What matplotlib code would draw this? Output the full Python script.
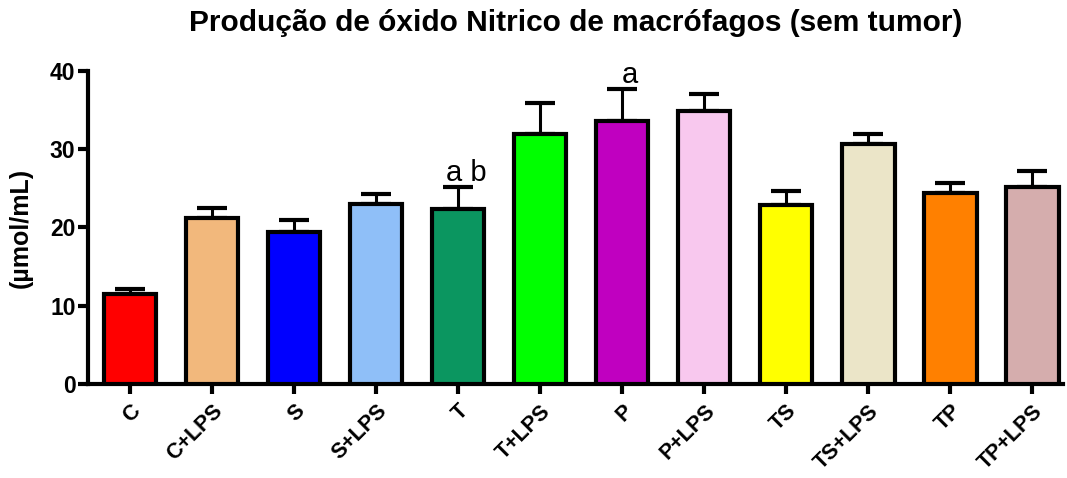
import numpy as np
import matplotlib
matplotlib.use('Agg')
import matplotlib.pyplot as plt

plt.rcParams['font.family'] = ['Liberation Sans', 'DejaVu Sans']

# groups, means and upper SEM
groups = ['C', 'C+LPS', 'S', 'S+LPS', 'T', 'T+LPS', 'P', 'P+LPS', 'TS', 'TS+LPS', 'TP', 'TP+LPS']
means = [11.5, 21.2, 19.4, 23.0, 22.4, 31.9, 33.6, 34.9, 22.9, 30.7, 24.4, 25.2]
sem = [0.6, 1.3, 1.6, 1.3, 2.8, 4.0, 4.1, 2.2, 1.8, 1.2, 1.3, 2.0]
colors = ['#FF0000', '#F2B87C', '#0000FF', '#8FBFF8', '#0B9660', '#00FF00',
          '#C000C0', '#F8C8EE', '#FFFF00', '#EBE5C8', '#FF8000', '#D5ADAD']
# significance letters above some bars
letters = {'T': 'a b', 'P': 'a'}

fig = plt.figure(figsize=(10.67, 4.78), dpi=100)
ax = fig.add_axes([0.0825, 0.1967, 0.9135, 0.6548])

x = np.arange(len(groups))
ax.bar(x, means, width=0.64, color=colors, edgecolor='black', linewidth=3, zorder=3)
ax.errorbar(x, means, yerr=[np.zeros(len(sem)), sem], fmt='none', ecolor='black',
            elinewidth=2.2, capsize=11, capthick=3, zorder=2)

for i, g in enumerate(groups):
    if g in letters:
        ax.text(x[i] + 0.1, means[i] + sem[i] + 0.0, letters[g], ha='center', va='bottom',
                fontsize=21)

ax.set_xlim(-0.51, 11.37)
ax.set_ylim(0, 40)
ax.set_yticks([0, 10, 20, 30, 40])
ax.set_xticks(x)
ax.set_xticklabels(groups, rotation=45, ha='right', rotation_mode='anchor',
                   fontsize=15.5, fontweight='bold')
for lab in ax.get_yticklabels():
    lab.set_fontsize(16.5)
    lab.set_fontweight('bold')
ax.tick_params(axis='both', direction='out', length=7, width=3, pad=2)
ax.tick_params(axis='x', pad=5)

for side in ['top', 'right']:
    ax.spines[side].set_visible(False)
for side in ['left', 'bottom']:
    ax.spines[side].set_linewidth(3)

ax.set_ylabel('(µmol/mL)', fontsize=18, fontweight='bold', labelpad=12)
ax.set_title('Produção de óxido Nitrico de macrófagos (sem tumor)', fontsize=21.5,
             fontweight='bold', pad=29)

fig.savefig('out.png', dpi=100)
